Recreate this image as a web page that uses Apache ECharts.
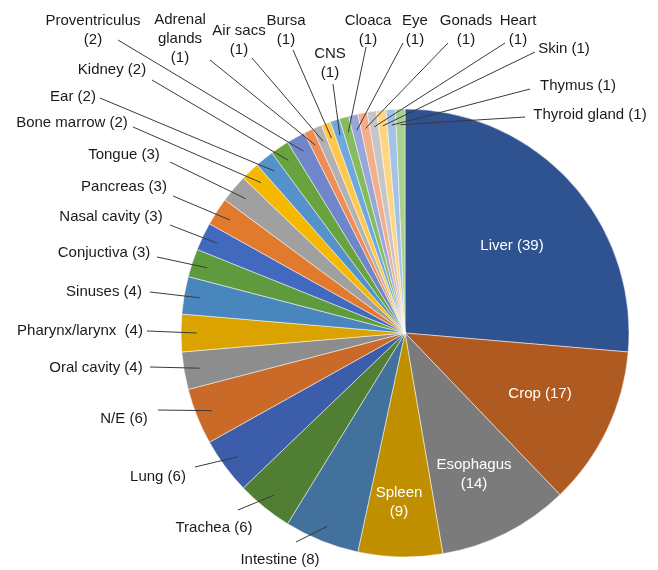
<!DOCTYPE html>
<html>
<head>
<meta charset="utf-8">
<script src="https://cdn.jsdelivr.net/npm/echarts@6/dist/echarts.min.js"></script>
<style>
  html, body { margin: 0; padding: 0; background: #fff; }
  #chart { width: 658px; height: 570px; }
</style>
</head>
<body>
<div id="chart"></div>
<script>
// organs, clockwise from 12 o'clock
const organs = ['Liver', 'Crop', 'Esophagus', 'Spleen', 'Intestine', 'Trachea', 'Lung', 'N/E',
  'Oral cavity', 'Pharynx/larynx', 'Sinuses', 'Conjuctiva', 'Nasal cavity', 'Pancreas', 'Tongue',
  'Bone marrow', 'Ear', 'Kidney', 'Proventriculus', 'Adrenal glands', 'Air sacs', 'Bursa', 'CNS',
  'Cloaca', 'Eye', 'Gonads', 'Heart', 'Skin', 'Thymus', 'Thyroid gland']
const cases = [39, 17, 14, 9, 8, 6, 6, 6,
  4, 4, 4, 3, 3, 3, 3,
  2, 2, 2, 2, 1, 1, 1, 1,
  1, 1, 1, 1, 1, 1, 1]
const insideLabels = ['Liver', 'Crop', 'Esophagus', 'Spleen']
const stackedLabels = ['Esophagus', 'Spleen', 'Proventriculus', 'Adrenal glands', 'Air sacs', 'Bursa',
  'CNS', 'Cloaca', 'Eye', 'Gonads', 'Heart']

const sliceColors = ['#2F5290', '#AE5A21', '#7B7B7B', '#BF8F00', '#41719C', '#507E32', '#3C5EAA', '#C96A28',
  '#8D8D8D', '#DAA300', '#4A86BE', '#5F9A3E', '#4169BE', '#E27A2E', '#A0A0A0',
  '#F5B800', '#5592CC', '#68A340', '#6F86CA', '#EE8D56', '#B2B2B2', '#FFC84A', '#6FA8DC',
  '#84BC5F', '#99A6DA', '#F3AE8C', '#C6C6C6', '#FFD581', '#A2C2E8', '#A9D08E']

// label placement: text centre [x, y] and, for outside labels, where the leader leaves the text
const labelSpots = {
  'Liver': [512, 246],
  'Crop': [540, 394],
  'Esophagus': [474, 474],
  'Spleen': [399, 502],
  'Intestine': [280, 560, 296, 542],
  'Trachea': [214, 528, 238, 510],
  'Lung': [158, 477, 195, 467],
  'N/E': [124, 419, 158, 410],
  'Oral cavity': [96, 368, 150, 367],
  'Pharynx/larynx': [80, 331, 147, 331],
  'Sinuses': [104, 292, 150, 292],
  'Conjuctiva': [104, 253, 157, 257],
  'Nasal cavity': [111, 217, 170, 225],
  'Pancreas': [124, 187, 173, 196],
  'Tongue': [124, 155, 170, 162],
  'Bone marrow': [72, 123, 133, 127],
  'Ear': [73, 97, 100, 98],
  'Kidney': [112, 70, 152, 80],
  'Proventriculus': [93, 30, 118, 40],
  'Adrenal glands': [180, 39, 210, 60],
  'Air sacs': [239, 40, 252, 58],
  'Bursa': [286, 30, 293, 50],
  'CNS': [330, 63, 333, 84],
  'Cloaca': [368, 30, 366, 47],
  'Eye': [415, 30, 403, 43],
  'Gonads': [466, 30, 448, 43],
  'Heart': [518, 30, 505, 43],
  'Skin': [564, 49, 535, 52],
  'Thymus': [578, 86, 530, 89],
  'Thyroid gland': [590, 115, 525, 117]
}

const cx = 405
const cy = 333
const radius = 224
const total = cases.reduce((a, b) => a + b, 0)

// point inside the slice where the leader line ends
function sliceAnchor(i) {
  let before = 0
  for (let k = 0; k < i; k++) before += cases[k]
  const mid = (before + cases[i] / 2) / total * Math.PI * 2
  const rr = radius * 0.93
  return [cx + rr * Math.sin(mid), cy - rr * Math.cos(mid)]
}

function labelText(name, value) {
  if (name === 'Adrenal glands') return 'Adrenal\nglands\n(' + value + ')'
  if (name === 'Pharynx/larynx') return name + '  (' + value + ')'
  if (stackedLabels.indexOf(name) >= 0) return name + '\n(' + value + ')'
  return name + ' (' + value + ')'
}

function placeLabel(params) {
  const name = organs[params.dataIndex]
  const spot = labelSpots[name]
  const out = { x: spot[0], y: spot[1], align: 'center', verticalAlign: 'middle' }
  if (spot.length > 2) {
    const a = sliceAnchor(params.dataIndex)
    out.labelLinePoints = [a, [(a[0] + spot[2]) / 2, (a[1] + spot[3]) / 2], [spot[2], spot[3]]]
  }
  return out
}

const textStyle = {
  fontFamily: 'Liberation Sans, Arial, sans-serif',
  fontSize: 15,
  lineHeight: 19
}

const chart = echarts.init(document.getElementById('chart'))

// coloured slices with the white labels that sit inside them
const sliceData = organs.map((name, i) => {
  const inside = insideLabels.indexOf(name) >= 0
  return {
    name: name,
    value: cases[i],
    itemStyle: { color: sliceColors[i] },
    label: { show: inside }
  }
})

// transparent copy on top that carries the outside labels, so leaders run into the slices
const leaderData = organs.map((name, i) => ({
  name: name,
  value: cases[i],
  label: { show: insideLabels.indexOf(name) < 0 }
}))

chart.setOption({
  animation: false,
  backgroundColor: '#ffffff',
  series: [{
    type: 'pie',
    z: 2,
    center: [cx, cy],
    radius: radius,
    startAngle: 90,
    clockwise: true,
    avoidLabelOverlap: false,
    itemStyle: {
      borderColor: '#ffffff',
      borderWidth: 0.5
    },
    label: Object.assign({
      position: 'inside',
      color: '#ffffff',
      formatter: p => labelText(p.name, p.value)
    }, textStyle),
    labelLine: { show: false },
    labelLayout: placeLabel,
    data: sliceData
  }, {
    type: 'pie',
    z: 5,
    silent: true,
    center: [cx, cy],
    radius: radius,
    startAngle: 90,
    clockwise: true,
    avoidLabelOverlap: false,
    itemStyle: {
      color: 'rgba(0,0,0,0)',
      borderWidth: 0
    },
    label: Object.assign({
      position: 'outside',
      color: '#1a1a1a',
      align: 'center',
      formatter: p => labelText(p.name, p.value)
    }, textStyle),
    labelLine: {
      show: true,
      length: 10,
      length2: 10,
      lineStyle: { color: '#3a3a3a', width: 1 }
    },
    labelLayout: placeLabel,
    data: leaderData
  }]
})
</script>
</body>
</html>
